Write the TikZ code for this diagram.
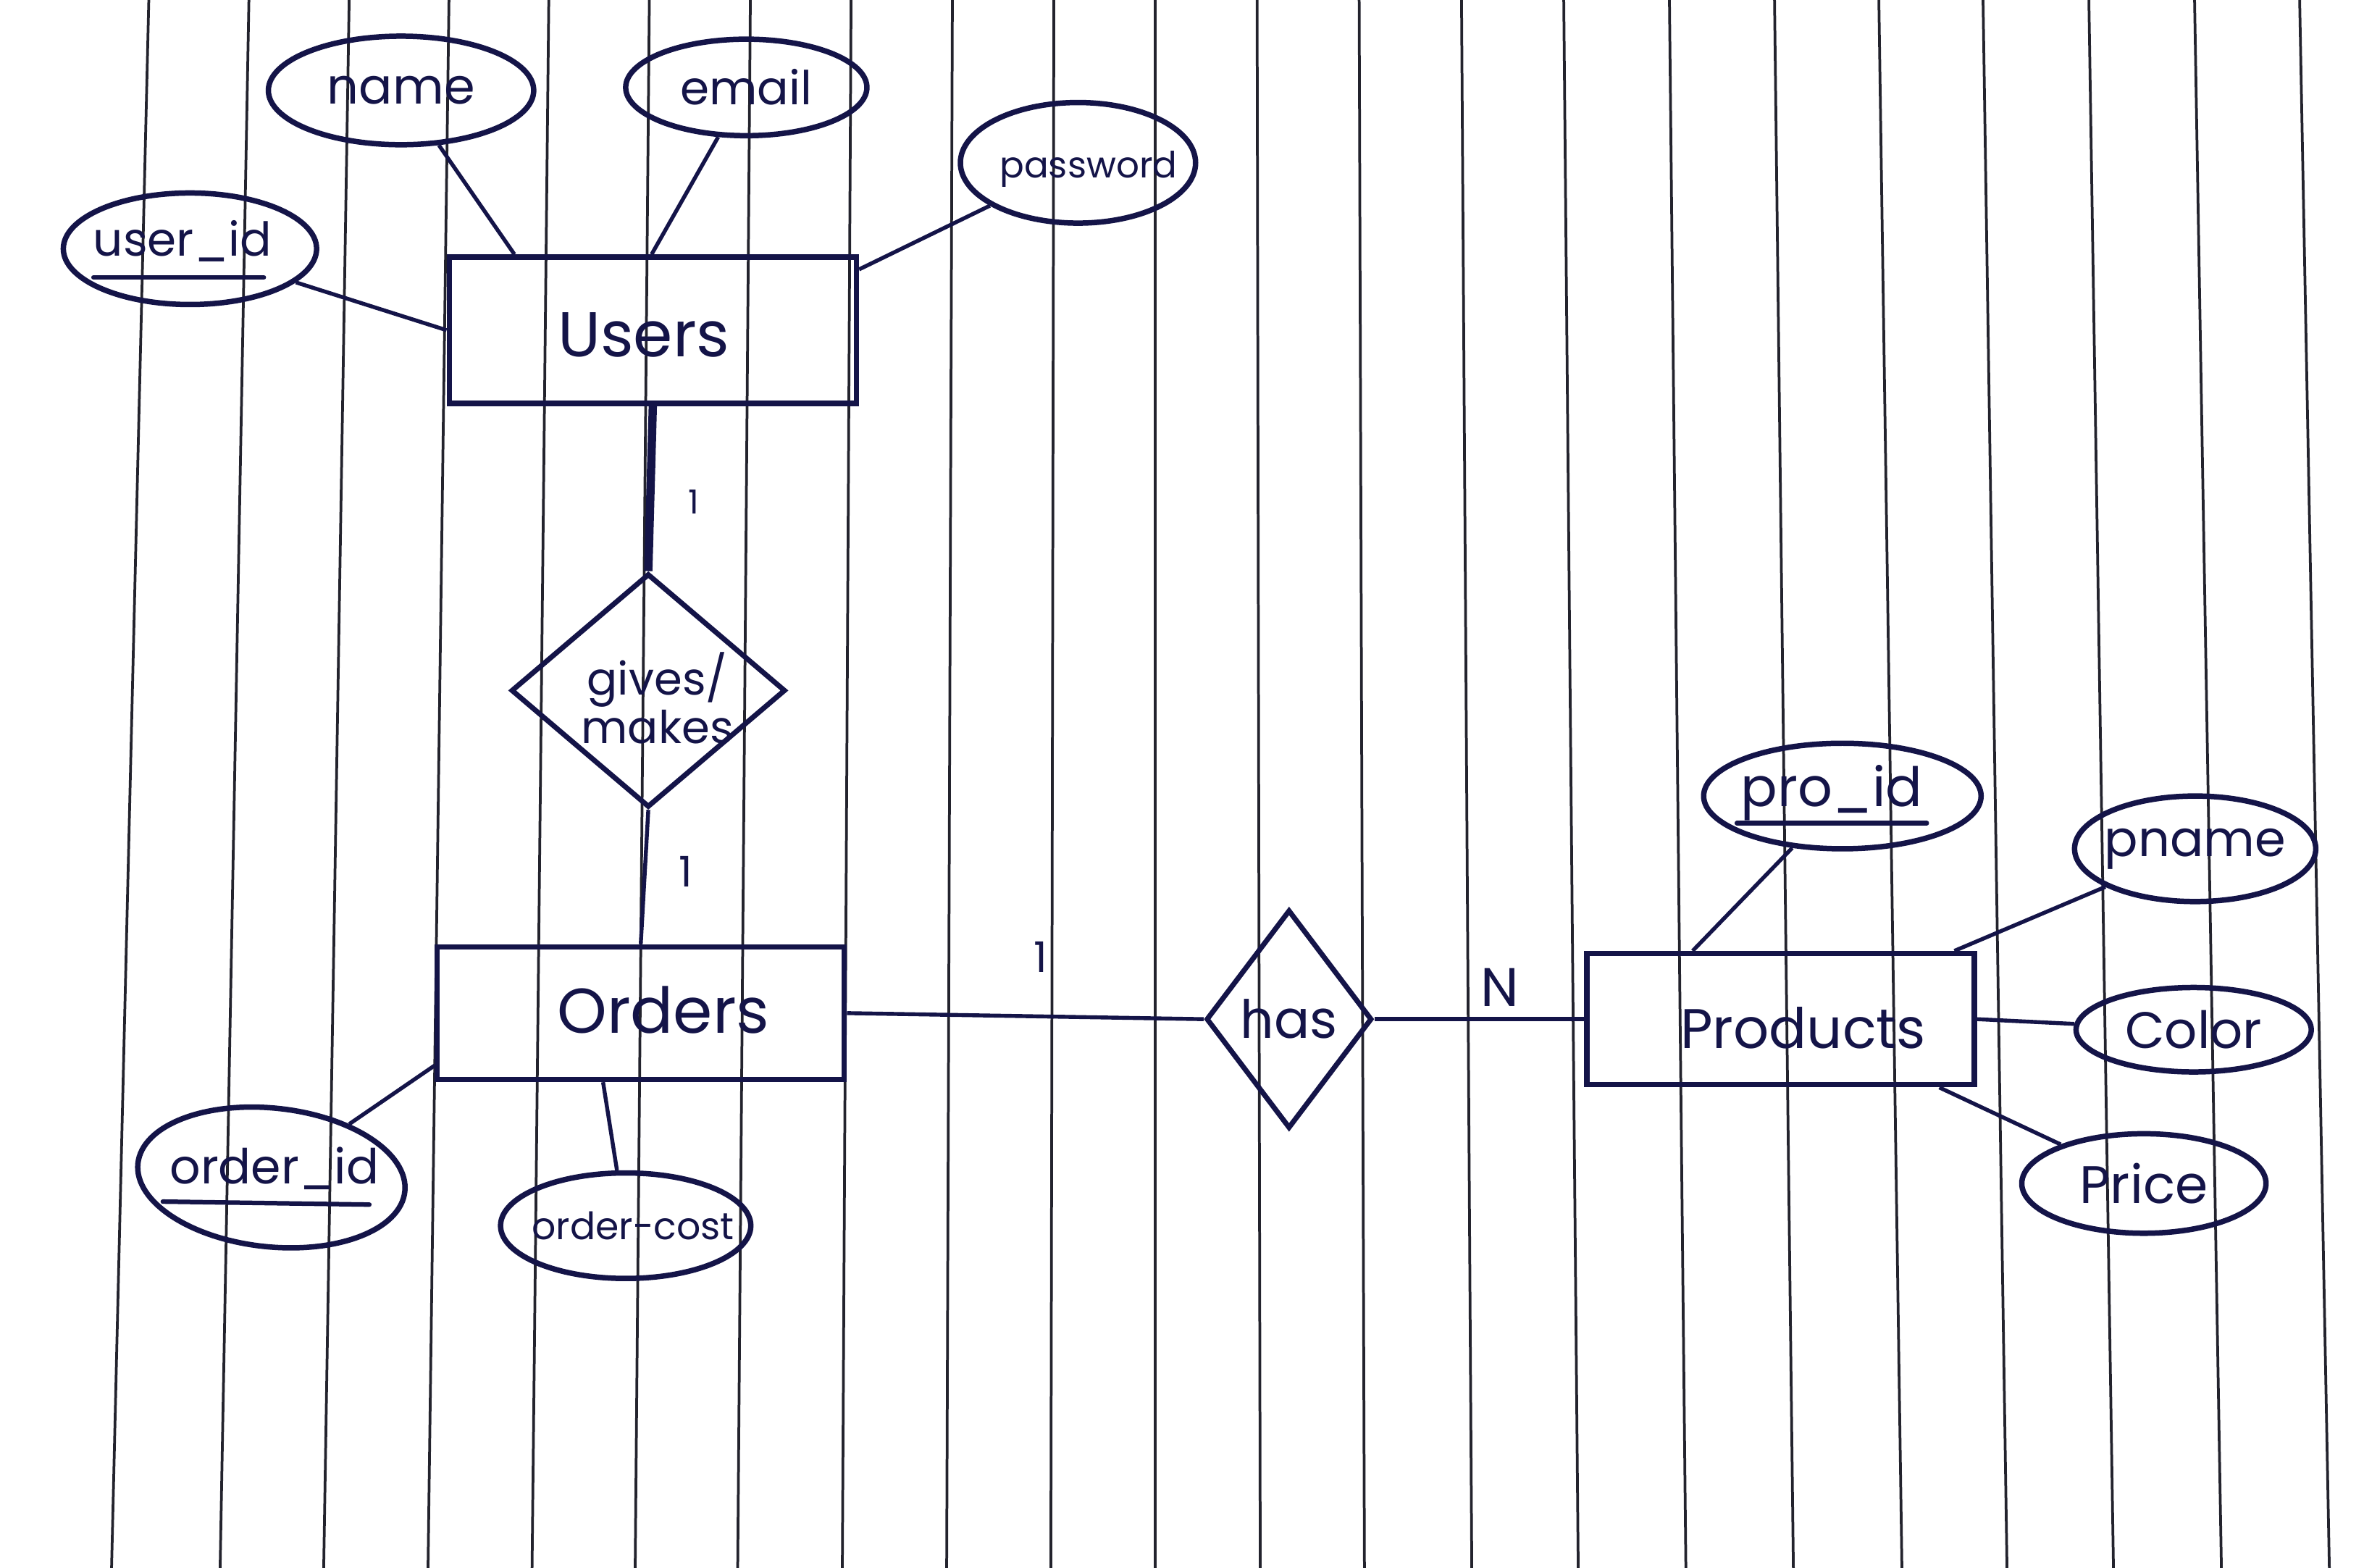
\documentclass[tikz,border=0pt]{standalone}
\usepackage{fontspec}
\usetikzlibrary{shapes.geometric}
\newfontfamily\hand{Poppins}
\definecolor{ink}{RGB}{20,20,72}
\definecolor{rulecol}{RGB}{35,35,45}
\newcommand\hsz[1]{\fontsize{#1}{#1}\selectfont}
\newcommand\zw[1]{\makebox[0pt][c]{#1}}

\begin{document}
\begin{tikzpicture}[x=1pt,y=-1pt,
  attr/.style={draw=ink, line width=3.6pt, ellipse, inner sep=0pt, text=ink},
  entity/.style={draw=ink, line width=3.6pt, rectangle, inner sep=0pt, text=ink},
  rel/.style={draw=ink, line width=3.4pt, diamond, inner sep=0pt, text=ink},
  link/.style={draw=ink, line width=2.6pt},
  card/.style={text=ink, inner sep=0pt},
  keyline/.style={draw=ink, line width=3pt, line cap=round},
  paper/.style={draw=rulecol, line width=1.8pt}
]
\useasboundingbox (0,0) rectangle (1568,1040);
\fill[white] (0,0) rectangle (1568,1040);

% ruled paper
\foreach \t/\b in {98.7/74, 165.1/146, 231.6/214.7, 297.8/283.9, 364/352.9,
  430.7/421.3, 497.7/489.3, 564.5/558.7, 631.7/627.9, 699/697, 766.2/766.2,
  833.8/835.9, 901.5/905, 969.4/976.2, 1037.2/1046.8, 1107.3/1118.2,
  1177/1189.5, 1246.2/1261.5, 1315.3/1331.2, 1385.5/1401.8, 1455.6/1473.4,
  1525.3/1545}
  \draw[paper] (\t,0) -- (\b,1040);

% entities
\node[entity, minimum width=270pt, minimum height=97pt] (users) at (433,219) {};
\node[text=ink, font=\hand\hsz{42}, inner sep=0pt] (userst) at (427,222) {Users};
\node[entity, minimum width=270pt, minimum height=88pt] (orders) at (425,672) {};
\node[text=ink, font=\hand\hsz{42}, inner sep=0pt] (orderst) at (440,670) {Orders};
\node[entity, minimum width=257pt, minimum height=87pt] (products) at (1181,676) {};
\node[text=ink, font=\hand\hsz{37}, inner sep=0pt] (productst) at (1196,682) {Products};

% relationships
\node[rel, minimum width=182pt, minimum height=155pt] (gm) at (430,458) {};
\node[text=ink, font=\hand\fontsize{30}{32}\selectfont, align=center, inner sep=0pt] (gmt) at (436,463) {gives/\\makes};
\node[rel, minimum width=110pt, minimum height=145pt, font=\hand\hsz{35}] (has) at (855,676) {\zw{has}};

% attributes of Users
\node[attr, minimum width=176pt, minimum height=72pt, font=\hand\hsz{33}] (name) at (266,60) {\zw{name}};
\node[attr, minimum width=160pt, minimum height=64pt, font=\hand\hsz{31}] (email) at (495,58) {\zw{email}};
\node[attr, minimum width=156pt, minimum height=80pt] (pass) at (715,108) {};
\node[text=ink, font=\hand\hsz{24}, inner sep=0pt] (passt) at (722,112) {password};
\node[attr, minimum width=168pt, minimum height=74pt] (uid) at (126,165) {};
\node[text=ink, font=\hand\hsz{31}, inner sep=0pt] (uidt) at (121,160) {user\_id};
\draw[keyline] (62,184) -- (175,184);

% attributes of Orders
\node[attr, minimum width=178pt, minimum height=92pt, rotate=-6] (oid) at (180,781) {};
\node[text=ink, font=\hand\hsz{32}, inner sep=0pt] (oidt) at (182,775) {order\_id};
\draw[keyline] (108,797) -- (245,799);
\node[attr, minimum width=166pt, minimum height=70pt] (ocost) at (415,813) {};
\node[text=ink, font=\hand\hsz{25}, inner sep=0pt] (ocostt) at (420,813) {order-cost};

% attributes of Products
\node[attr, minimum width=184pt, minimum height=70pt] (proid) at (1222,528) {};
\node[text=ink, font=\hand\hsz{36}, inner sep=0pt] (proidt) at (1215,526) {pro\_id};
\draw[keyline] (1152,546) -- (1278,546);
\node[attr, minimum width=160pt, minimum height=70pt, font=\hand\hsz{33}] (pname) at (1456,563) {\zw{pname}};
\node[attr, minimum width=156pt, minimum height=56pt, font=\hand\hsz{34}] (color) at (1455,683) {\zw{Color}};
\node[attr, minimum width=162pt, minimum height=66pt, font=\hand\hsz{35}] (price) at (1422,785) {\zw{Price}};

% attribute links
\draw[link] (name) -- ([xshift=45pt]users.north west);
\draw[link] (email) -- ([xshift=136pt]users.north west);
\draw[link] (pass) -- ([yshift=-10pt]users.north east);
\draw[link] (uid) -- (users.west);
\draw[link] (oid) -- ([yshift=11pt]orders.south west);
\draw[link] (ocost) -- ([xshift=-25pt]orders.south);
\draw[link] (proid) -- ([xshift=72pt]products.north west);
\draw[link] (pname) -- ([xshift=-15pt]products.north east);
\draw[link] (color) -- (products.east);
\draw[link] (price) -- ([xshift=-25pt]products.south east);

% relationship links
\draw[link, line width=5.5pt] (users.south) -- (gm.north);
\draw[link] (gm.south) -- (orders.north);
\draw[link] (orders.east) -- (has.west);
\draw[link] (has.east) -- (products.west);

% cardinalities
\node[card, font=\hand\hsz{22}] (c1) at (460,333) {1};
\node[card, font=\hand\hsz{28}] (c2) at (455,578) {1};
\node[card, font=\hand\hsz{28}] (c3) at (690,635) {1};
\node[card, font=\hand\hsz{36}] (c4) at (995,655) {N};
\end{tikzpicture}
\end{document}
